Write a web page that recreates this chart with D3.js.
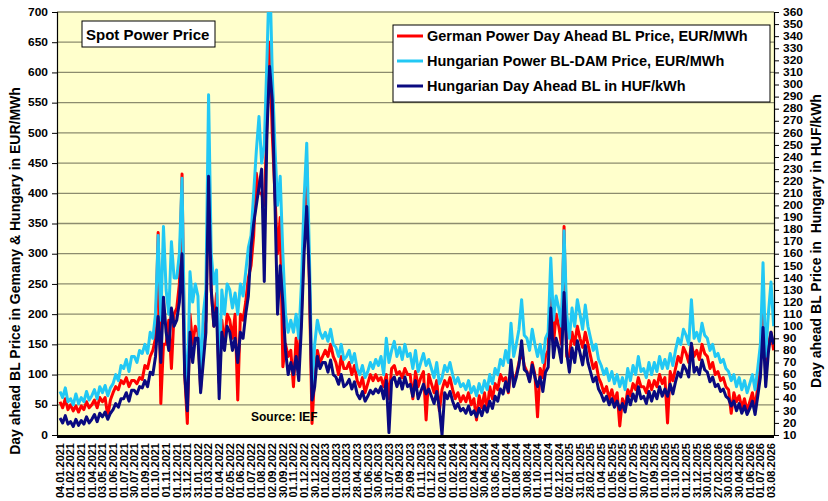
<!DOCTYPE html>
<html>
<head>
<meta charset="utf-8">
<script src="https://cdn.jsdelivr.net/npm/d3@7"></script>
<style>
  body { margin: 0; background: #fff; }
  text { font-family: Arial, "Liberation Sans", sans-serif; font-weight: bold; fill: #000; }
</style>
</head>
<body>
<svg id="chart" width="828" height="501"></svg>
<script>
// month labels on the category axis
const dates = [
  "04.01.2021","01.02.2021","01.03.2021","01.04.2021","03.05.2021","01.06.2021","01.07.2021","30.07.2021",
  "01.09.2021","01.10.2021","01.11.2021","01.12.2021","31.12.2021","31.01.2022","01.03.2022","01.04.2022",
  "02.05.2022","01.06.2022","01.07.2022","01.08.2022","02.09.2022","30.09.2022","01.11.2022","01.12.2022",
  "30.12.2022","01.02.2023","01.03.2023","31.03.2023","28.04.2023","01.06.2023","30.06.2023","31.07.2023",
  "01.09.2023","29.09.2023","01.11.2023","01.12.2023","02.01.2024","01.02.2024","01.03.2024","02.04.2024",
  "30.04.2024","03.06.2024","01.07.2024","01.08.2024","30.08.2024","01.10.2024","01.11.2024","02.12.2024",
  "02.01.2025","31.01.2025","28.02.2025","01.04.2025","01.05.2025","02.06.2025","01.07.2025","30.07.2025",
  "01.09.2025","01.10.2025","31.10.2025","01.12.2025","31.12.2025","30.01.2026","27.02.2026","30.03.2026",
  "30.04.2026","01.06.2026","01.07.2026","03.08.2026"
];

// weekly readings, 4 per month label (EUR/MWh)
const huEur = [
  72,62,78,55, 60,50,68,52, 62,55,72,58, 65,75,60,80, 70,82,65,78, 85,100,90,115,
  110,125,105,130, 130,120,140,135, 150,135,170,160, 200,330,190,345, 240,200,320,260, 260,300,425,150,
  60,270,220,250, 230,80,200,240, 563,300,250,273, 90,240,200,250, 240,210,235,200, 250,230,270,310,
  330,400,470,527, 450,480,620,780, 600,480,380,428, 300,200,170,190, 170,200,160,250, 390,483,300,80,
  150,190,170,160, 170,155,175,150, 145,130,150,125, 130,140,120,135, 110,100,115,95, 105,120,110,125,
  115,130,100,160, 120,140,155,130, 145,125,150,130, 135,110,140,105, 120,135,115,125, 110,95,120,85,
  95,115,105,120, 100,85,95,80, 85,75,90,70, 80,65,85,70, 90,75,100,85, 110,100,125,115,
  140,120,185,130, 150,175,224,165, 160,140,175,150, 130,150,120,160, 170,293,190,230, 210,180,338,200,
  160,210,180,224, 200,175,215,180, 160,140,150,125, 115,100,110,90, 105,85,100,80, 95,75,110,90,
  115,100,130,105, 110,95,120,100, 120,105,130,110, 125,110,135,115, 140,160,150,175, 165,150,224,160,
  170,155,185,165, 160,140,150,130, 135,120,125,110, 105,90,100,80, 95,75,90,70, 85,100,75,110,
  150,285,130,200, 253,180
];

const deEur = [
  55,45,60,42, 50,40,48,38, 48,42,55,45, 50,58,45,62, 55,62,31,58, 70,80,75,90,
  85,95,80,90, 90,85,95,92, 115,110,130,140, 160,335,52,150, 150,190,110,200, 210,250,432,100,
  19,200,150,180, 170,75,150,190, 450,240,180,234, 86,190,150,200, 190,160,200,58, 200,190,220,260,
  280,330,433,400, 400,380,510,650, 500,400,300,360, 113,150,130,140, 80,160,120,200, 330,450,250,19,
  100,140,120,130, 140,130,150,130, 120,100,130,110, 110,120,100,115, 90,80,95,70, 85,100,90,100,
  90,95,80,100, 60,110,115,100, 105,95,110,100, 100,60,105,80, 95,105,25,100, 85,70,90,40,
  75,90,80,95, 75,60,70,55, 65,55,70,50, 60,25,65,45, 70,40,80,60, 85,75,100,90,
  95,70,110,90, 100,120,140,115, 105,90,120,100, 30,110,95,130, 140,250,150,200, 180,150,345,130,
  130,170,150,180, 160,145,170,150, 130,110,120,95, 85,70,80,60, 75,55,70,15, 60,45,75,65,
  85,75,95,80, 80,70,90,75, 90,80,100,85, 95,20,105,90, 110,130,120,145, 135,120,150,130,
  140,125,150,135, 130,110,120,100, 105,90,95,80, 75,36,70,55, 65,45,60,40, 55,70,45,80,
  120,199,100,150, 170,140
];

// HUF/kWh, right axis
const huHuf = [
  24,20,26,19, 21,17,23,18, 22,19,25,20, 23,27,21,28, 25,29,23,28, 31,36,33,40,
  40,45,38,47, 47,44,50,49, 55,50,62,60, 75,108,70,124, 95,80,115,100, 105,120,160,60,
  30,95,70,90, 90,45,70,95, 224,130,100,115, 40,95,80,100, 95,80,90,70, 95,90,110,125,
  165,185,200,215, 230,137,260,315, 287,205,110,150, 120,80,60,70, 60,75,55,100, 160,199,140,39,
  50,75,65,70, 70,62,72,60, 58,52,60,50, 52,56,48,54, 44,40,46,38, 42,47,44,48,
  45,50,40,55, 12,55,58,50, 57,48,58,50, 52,42,55,40, 46,52,44,48, 42,36,46,32,
  10,45,40,46, 38,32,36,30, 32,28,34,27, 30,25,32,26, 34,29,38,32, 42,38,48,44,
  54,46,72,50, 58,68,88,64, 62,54,68,58, 50,58,46,62, 66,115,74,90, 82,70,128,78,
  62,82,70,88, 78,68,84,70, 62,54,58,48, 44,38,42,35, 40,33,38,31, 36,29,42,35,
  44,38,50,40, 42,36,46,38, 46,40,50,42, 48,42,52,44, 54,62,58,68, 64,58,86,62,
  66,60,72,64, 62,54,58,50, 52,46,48,42, 40,34,38,30, 36,28,34,27, 32,38,27,42,
  58,99,50,78, 95,85
];

const leftTicks = d3.range(0, 701, 50);
const rightTicks = d3.range(10, 361, 10);

const legendItems = [
  {name: "German Power Day Ahead BL Price, EUR/MWh", color: "#ff0000"},
  {name: "Hungarian Power BL-DAM Price, EUR/MWh", color: "#22c8f4"},
  {name: "Hungarian Day Ahead BL in HUF/kWh", color: "#0a0a80"}
];

const svg = d3.select("#chart");
const plotL = 57, plotR = 774, plotT = 12, plotB = 435;

const x = d3.scaleLinear().domain([0, dates.length - 1]).range([60, 771]);
const yL = d3.scaleLinear().domain([0, 700]).range([plotB, plotT]);
const yR = d3.scaleLinear().domain([10, 360]).range([plotB, plotT]);

svg.append("rect").attr("width", 828).attr("height", 501).attr("fill", "#fff");
svg.append("rect")
  .attr("x", plotL).attr("y", plotT)
  .attr("width", plotR - plotL).attr("height", plotB - plotT)
  .attr("fill", "#ffffcc");

svg.append("defs").append("clipPath").attr("id", "plotClip")
  .append("rect").attr("x", plotL).attr("y", plotT)
  .attr("width", plotR - plotL).attr("height", plotB - plotT);

// horizontal grid
svg.append("g").attr("class", "grid")
  .selectAll("line")
  .data(leftTicks.filter(d => d > 0))
  .enter().append("line")
  .attr("x1", plotL).attr("x2", plotR)
  .attr("y1", d => yL(d)).attr("y2", d => yL(d))
  .attr("stroke", "#8c8c6e").attr("stroke-width", 1.3);

// lines
const body = svg.append("g").attr("clip-path", "url(#plotClip)");
const series = [
  {values: deEur, y: yL, color: legendItems[0].color},
  {values: huEur, y: yL, color: legendItems[1].color},
  {values: huHuf, y: yR, color: legendItems[2].color}
];
series.forEach(s => {
  const line = d3.line()
    .x((d, i) => x(i / 4))
    .y(d => s.y(d));
  body.append("path")
    .datum(s.values)
    .attr("d", line)
    .attr("fill", "none")
    .attr("stroke", s.color)
    .attr("stroke-width", 3)
    .attr("stroke-linejoin", "round");
});

// left axis
const axL = svg.append("g").attr("transform", `translate(${plotL},0)`)
  .call(d3.axisLeft(yL).tickValues(leftTicks).tickSize(5).tickPadding(4));
axL.select(".domain").attr("stroke", "#000").attr("stroke-width", 1.2);
axL.selectAll(".tick line").attr("stroke", "#000");
axL.selectAll(".tick text")
  .style("font-size", "10px")
  .attr("x", -7.5)
  .attr("transform", "scale(1.2,1)");

// right axis
const axR = svg.append("g").attr("transform", `translate(${plotR},0)`)
  .call(d3.axisRight(yR).tickValues(rightTicks).tickSize(5).tickPadding(4));
axR.select(".domain").attr("stroke", "#000").attr("stroke-width", 1.2);
axR.selectAll(".tick line").attr("stroke", "#000");
axR.selectAll(".tick text")
  .style("font-size", "10px")
  .attr("x", 7.5)
  .attr("transform", "scale(1.2,1)");

// bottom axis
svg.append("line")
  .attr("x1", plotL).attr("x2", plotR)
  .attr("y1", plotB + 1.5).attr("y2", plotB + 1.5)
  .attr("stroke", "#000").attr("stroke-width", 3);

svg.append("g").selectAll("text")
  .data(dates)
  .enter().append("text")
  .attr("transform", (d, i) => `translate(${x(i)},443) rotate(-90)`)
  .attr("text-anchor", "end")
  .attr("dy", "0.35em")
  .style("font-size", "11px")
  .text(d => d);

// axis titles
svg.append("text")
  .attr("transform", "translate(15,271) rotate(-90)")
  .attr("text-anchor", "middle").attr("dy", "0.35em")
  .style("font-size", "14px")
  .text("Day ahead BL Price in Gemany & Hungary in EUR/MWh");

svg.append("text")
  .attr("transform", "translate(816,241) rotate(-90)")
  .attr("text-anchor", "middle").attr("dy", "0.35em")
  .style("font-size", "14px").style("white-space", "pre")
  .text("Day ahead BL Price in  Hungary in HUF/kWh");

// title box
svg.append("rect").attr("x", 82).attr("y", 21).attr("width", 133).attr("height", 26)
  .attr("fill", "#fff").attr("stroke", "#000").attr("stroke-width", 1);
svg.append("text").attr("x", 86).attr("y", 40).style("font-size", "15px").text("Spot Power Price");

// source
svg.append("text").attr("x", 251).attr("y", 421).style("font-size", "12px").text("Source: IEF");

// legend
const lg = svg.append("g");
lg.append("rect").attr("x", 393).attr("y", 25).attr("width", 377).attr("height", 77)
  .attr("fill", "#fff").attr("stroke", "#000").attr("stroke-width", 1);
const li = lg.selectAll(".item").data(legendItems).enter().append("g")
  .attr("transform", (d, i) => `translate(0,${36 + i * 25})`);
li.append("line").attr("x1", 397).attr("x2", 423)
  .attr("stroke", d => d.color).attr("stroke-width", 3);
li.append("text").attr("x", 427).attr("dy", "0.36em")
  .style("font-size", "14.5px").text(d => d.name);
</script>
</body>
</html>
